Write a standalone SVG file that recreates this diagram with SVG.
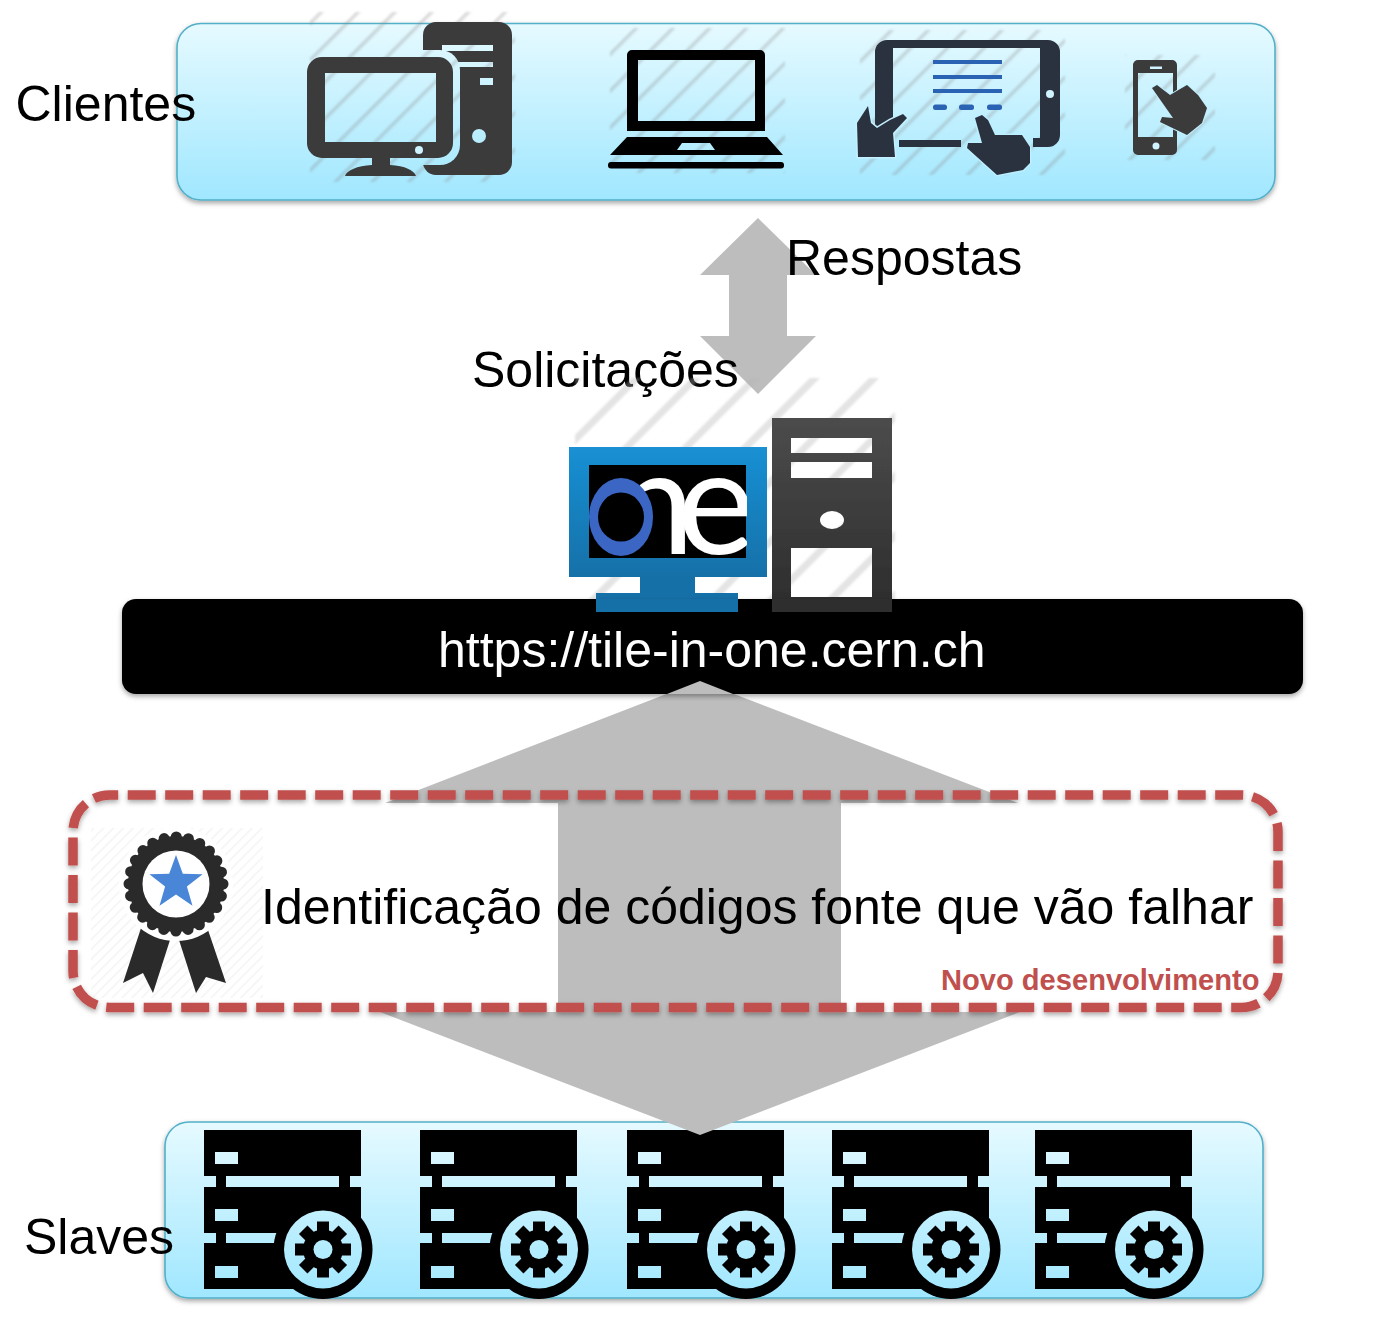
<svg xmlns="http://www.w3.org/2000/svg" width="1393" height="1333" viewBox="0 0 1393 1333">
<style>
text{font-family:"Liberation Sans",Arial,sans-serif;fill:#000}
.lab{font-size:50px}
.panel{fill:url(#panelG);stroke:#52b0c8;stroke-width:1.6;filter:url(#shadow)}
.arrow{fill:#bdbdbd}
.soft{filter:url(#soft)}
.d{fill:#3a3a3a}
.t{fill:#2b3340}
.blue{fill:#2a62b4}
</style>
<defs>
<linearGradient id="panelG" x1="0" y1="0" x2="0" y2="1"><stop offset="0" stop-color="#e6faff"/><stop offset="1" stop-color="#a0e7ff"/></linearGradient>
<linearGradient id="monG" x1="0" y1="0" x2="0" y2="1"><stop offset="0" stop-color="#1a90d4"/><stop offset="1" stop-color="#1270a8"/></linearGradient>
<linearGradient id="towG" x1="0" y1="0" x2="0" y2="1"><stop offset="0" stop-color="#4c4c4c"/><stop offset="1" stop-color="#2c2c2c"/></linearGradient>
<filter id="shadow" x="-5%" y="-10%" width="110%" height="120%"><feDropShadow dx="0" dy="2.5" stdDeviation="2.5" flood-color="#000" flood-opacity=".35"/></filter>
<filter id="soft" x="-5%" y="-5%" width="110%" height="110%"><feGaussianBlur stdDeviation=".6"/></filter>
<filter id="softer" x="-5%" y="-5%" width="110%" height="110%"><feGaussianBlur stdDeviation="1"/></filter>
<pattern id="hatch" width="26" height="26" patternUnits="userSpaceOnUse" patternTransform="rotate(45)"><rect x="0" y="0" width="3.500" height="26" fill="#8a8a8a" fill-opacity=".3"/></pattern>
<pattern id="hatchBig" width="42" height="42" patternUnits="userSpaceOnUse" patternTransform="rotate(45)"><rect x="0" y="0" width="7" height="42" fill="#b5b5b5" fill-opacity=".36"/></pattern>
<pattern id="hatchFine" width="7" height="7" patternUnits="userSpaceOnUse" patternTransform="rotate(45)"><rect x="0" y="0" width="1.500" height="7" fill="#bbb" fill-opacity=".16"/></pattern>
<clipPath id="neClip"><rect x="640" y="465" width="107" height="93"/></clipPath>
<mask id="towerM" maskUnits="userSpaceOnUse" x="400" y="10" width="130" height="180"><rect x="400" y="10" width="130" height="180" fill="#fff"/><rect x="300" y="50" width="160" height="115" rx="20" fill="#000"/><rect x="442" y="45" width="51" height="6" fill="#000"/><rect x="442" y="62" width="51" height="5" fill="#000"/><rect x="480" y="78" width="13" height="7" fill="#000"/><circle cx="479" cy="136" r="7" fill="#000"/></mask>
<mask id="rackM" maskUnits="userSpaceOnUse" x="-5" y="-5" width="185" height="185">
<rect x="0" y="0" width="157" height="46" fill="#fff"/><rect x="0" y="57" width="157" height="46" fill="#fff"/><rect x="0" y="113" width="118" height="46" fill="#fff"/>
<rect x="12" y="44" width="10" height="71" fill="#fff"/><rect x="135" y="44" width="11" height="15" fill="#fff"/>
<circle cx="119" cy="119.500" r="49.500" fill="#fff"/>
<rect x="11" y="22" width="23" height="12" fill="#000"/><rect x="11" y="79" width="23" height="12" fill="#000"/><rect x="11" y="136" width="23" height="12" fill="#000"/>
<rect x="22" y="103" width="47" height="10" fill="#000"/>
<circle cx="119" cy="119.500" r="39" fill="#000"/>
<g transform="translate(119 119.500)" fill="#fff">
<circle r="20"/>
<rect x="-6" y="-28" width="12" height="56"/>
<rect x="-6" y="-28" width="12" height="56" transform="rotate(45)"/>
<rect x="-6" y="-28" width="12" height="56" transform="rotate(90)"/>
<rect x="-6" y="-28" width="12" height="56" transform="rotate(135)"/>
<circle r="9.500" fill="#000"/>
</g>
</mask>
<g id="rack" class="soft">
<rect x="-5" y="-5" width="185" height="185" fill="#000" mask="url(#rackM)"/>
</g>
</defs>
<rect width="1393" height="1333" fill="#fff"/>

<g id="clientes">
<rect class="panel" x="177" y="23.500" width="1098" height="176.500" rx="24"/>
<text class="lab" x="15.500" y="121">Clientes</text>
</g>
<g id="desktop">
<rect x="310" y="12" width="205" height="170" fill="url(#hatch)" filter="url(#softer)"/>
<g class="soft">
<rect class="d" x="423" y="22" width="89" height="153" rx="13" mask="url(#towerM)"/>
<path class="d" fill-rule="evenodd" d="M322 57H438A15 15 0 0 1 453 72V143A15 15 0 0 1 438 158H390V165C405 166 414 170 416 176H345C347 170 357 166 372 165V158H322A15 15 0 0 1 307 143V72A15 15 0 0 1 322 57ZM325 73V142H436V73Z"/>
<circle cx="419" cy="150" r="4" fill="#cdf3ff"/>
</g>
</g>
<g id="laptop">
<rect x="610" y="28" width="175" height="145" fill="url(#hatch)" filter="url(#softer)"/>
<g class="soft" fill="#000">
<path fill-rule="evenodd" d="M632 50H760A5 5 0 0 1 765 55V131H627V55A5 5 0 0 1 632 50ZM638 60V121H755V60Z"/>
<path fill-rule="evenodd" d="M627 137H767L783 155H610ZM682 143L677 150H715L710 143Z"/>
<rect x="608" y="162" width="176" height="6.500" rx="3"/>
</g>
</g>
<g id="tablet">
<rect x="860" y="30" width="205" height="145" fill="url(#hatch)" filter="url(#softer)"/>
<g class="soft">
<path class="t" d="M887 40H1048A12 12 0 0 1 1060 52V135A12 12 0 0 1 1048 147H1033V138H1040V48H893V127H875V52A12 12 0 0 1 887 40Z"/>
<rect class="t" x="899" y="140" width="62" height="7"/>
<circle cx="1050" cy="94" r="4" fill="#d0f3ff"/>
<rect class="blue" x="933" y="60" width="69" height="4"/><rect class="blue" x="933" y="75" width="69" height="4"/><rect class="blue" x="933" y="89" width="69" height="4"/>
<rect class="blue" x="933" y="104.500" width="14" height="5.500" rx="2.500"/><rect class="blue" x="959" y="104.500" width="15" height="5.500" rx="2.500"/><rect class="blue" x="987" y="104.500" width="15" height="5.500" rx="2.500"/>
<path class="t" stroke="#c4f0ff" stroke-width="3" paint-order="stroke" d="M857 123L868 106L871 123L877 128L890 120L903 114L907 118L893 133L895 157H858Z"/>
<path class="t" stroke="#bcefff" stroke-width="3" paint-order="stroke" stroke-linejoin="round" d="M975 118L982 115L988 120L995 135H1022L1030 147V163L1023 170L997 175L967 148L968 143L982 143Z"/>
</g>
</g>
<g id="phone">
<rect x="1125" y="55" width="90" height="105" fill="url(#hatch)" filter="url(#softer)"/>
<g class="soft">
<path class="d" fill-rule="evenodd" d="M1138 60H1172A5 5 0 0 1 1177 65V150A5 5 0 0 1 1172 155H1138A5 5 0 0 1 1133 150V65A5 5 0 0 1 1138 60ZM1138 73V137H1173V73Z"/>
<rect x="1150" y="66.500" width="12" height="2.500" fill="#d0f3ff"/>
<circle cx="1156" cy="146" r="3.500" fill="#d0f3ff"/>
<path class="d" stroke="#c0efff" stroke-width="2" paint-order="stroke" stroke-linejoin="round" d="M1152 88L1157 85L1170 95L1187 85L1198 95L1207 108L1202 123L1187 135L1160 122L1162 117L1173 118Z"/>
</g>
</g>

<g id="slaves">
<rect class="panel" x="165" y="1122" width="1098" height="176" rx="24"/>
<use href="#rack" transform="translate(204 1130)"/>
<use href="#rack" transform="translate(420 1130)"/>
<use href="#rack" transform="translate(627 1130)"/>
<use href="#rack" transform="translate(832 1130)"/>
<use href="#rack" transform="translate(1035 1130)"/>
<text class="lab" x="24" y="1254">Slaves</text>
</g>

<g id="connectors">
<path class="arrow" d="M758 218L816 275H787V336H816L758 394L700 336H729V275H700Z"/>
<path class="arrow" d="M700 681L1018 803H841V1012H1020L700 1135L380 1012H558V803H385Z"/>
</g>
<text class="lab" x="786" y="275">Respostas</text>
<text class="lab" x="472" y="387">Solicitações</text>

<g id="servidor">
<rect x="575" y="378" width="320" height="222" fill="url(#hatchBig)" filter="url(#softer)"/>
<g class="soft">
<rect x="569" y="447" width="198" height="130" fill="url(#monG)"/>
<rect x="640" y="577" width="55" height="17" fill="#1270a8"/>
<rect x="596" y="593" width="142" height="19" fill="#1270a8"/>
<rect x="589" y="465" width="157" height="93" fill="#000"/>
<text x="612 677" y="554" font-size="148" clip-path="url(#neClip)" style="font-family:Lato,'Liberation Sans',sans-serif;fill:#fff">ne</text>
<path fill="#3a66c4" fill-rule="evenodd" d="M589 517A32 39 0 1 0 653 517A32 39 0 1 0 589 517ZM598 517A23 24.500 0 1 1 644 517A23 24.500 0 1 1 598 517Z"/>
<path fill="url(#towG)" fill-rule="evenodd" d="M772 418H892V612H772ZM791 438V453H872V438ZM791 462V478H872V462ZM791 548V597H872V548ZM820 520A12 9 0 1 0 844 520A12 9 0 1 0 820 520Z"/>
</g>
</g>

<g id="url" filter="url(#shadow)">
<path fill="#000" d="M136 599H1289A14 14 0 0 1 1303 613V680A14 14 0 0 1 1289 694H136A14 14 0 0 1 122 680V613A14 14 0 0 1 136 599Z"/>
</g>
<g id="servidor-base" class="soft">
<rect x="596" y="599" width="142" height="13" fill="#1270a8"/>
<rect x="772" y="599" width="120" height="13" fill="#2f2f2f"/>
</g>
<path class="arrow" d="M700 681L733 694H667Z"/>
<text class="lab" x="438" y="667" style="fill:#fff">https://tile-in-one.cern.ch</text>

<g id="novo">
<rect x="73" y="795" width="1205" height="212.500" rx="36.600" fill="none" stroke="#c0504d" stroke-width="9.500" stroke-dasharray="28 9.500" stroke-dashoffset="19.400" filter="url(#shadow)"/>
<text class="lab" x="261" y="924">Identificação de códigos fonte que vão falhar</text>
<text x="941" y="990" font-size="29.100" font-weight="700" style="fill:#c0504d">Novo desenvolvimento</text>
</g>
<g id="selo">
<rect x="91" y="828" width="172" height="170" fill="url(#hatchFine)"/>
<g class="soft" fill="#2a2a2a">
<path d="M142 925L170 940L153 993L143 973L123 983Z"/>
<path d="M179 940L208 930L226 983L206 977L196 993Z"/>
<circle cx="176" cy="884" r="57" fill="#fff"/>
<circle cx="176" cy="884" r="48"/>
<circle cx="176" cy="884" r="47" fill="none" stroke="#2a2a2a" stroke-width="11" stroke-linecap="round" stroke-dasharray="0 12.300"/>
<circle cx="176" cy="884" r="33.500" fill="#fff"/>
<path fill="#4a86d8" d="M176 855L182.800 873.700L202.600 874.300L186.900 886.600L192.500 905.700L176 894.500L159.500 905.700L165.100 886.600L149.400 874.300L169.200 873.700Z"/>
</g>
</g>
</svg>
